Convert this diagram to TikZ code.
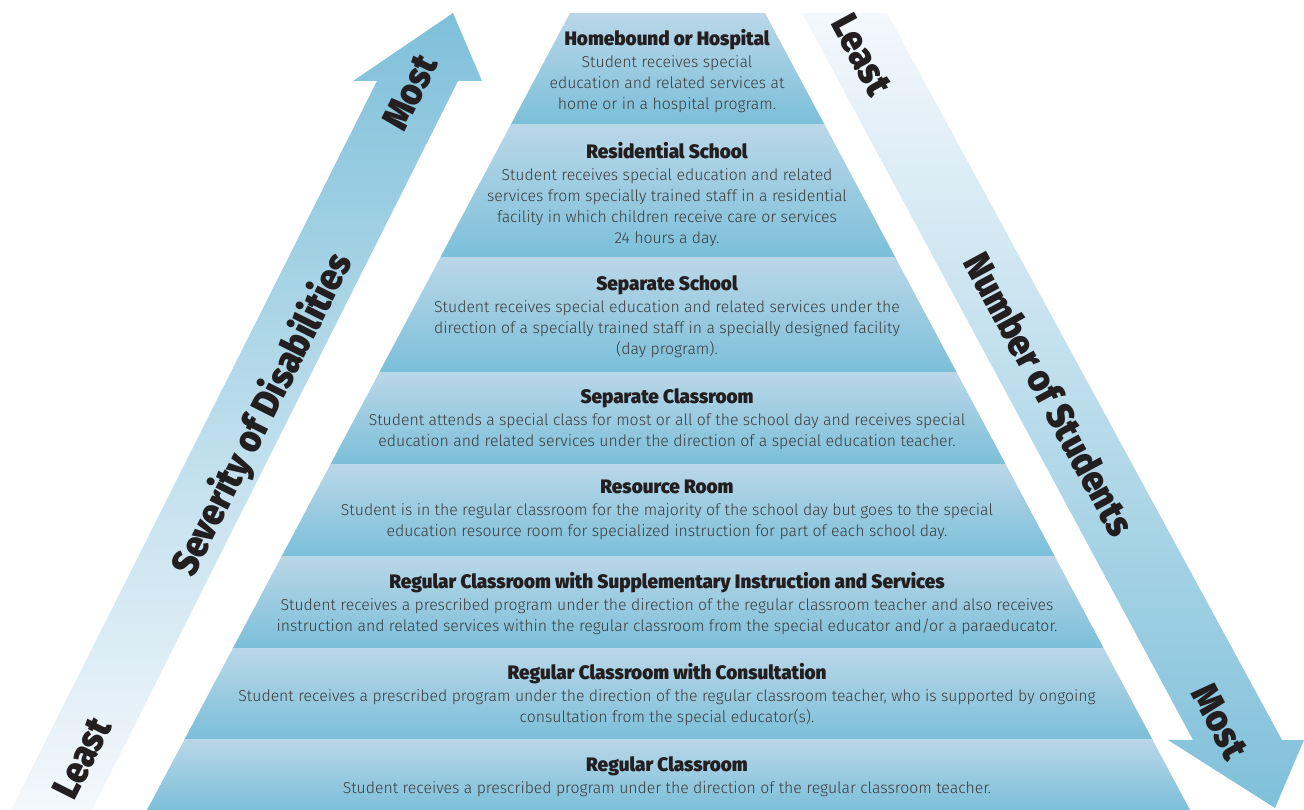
\documentclass[tikz,border=0pt]{standalone}
\usepackage{fontspec}
\setmainfont{Fira Sans}
\newfontfamily\lightfont{Fira Sans Light}
\newfontfamily\titlefont{Fira Sans Black}[FakeStretch=0.97]
\newfontfamily\blackfont{Fira Sans Black}[FakeStretch=0.9]
\definecolor{bandtop}{HTML}{BAD7E8}
\definecolor{bandbot}{HTML}{7BBFD9}
\definecolor{arrowdark}{HTML}{7FC0DA}
\definecolor{arrowpale}{HTML}{F4F8FC}
\definecolor{bodytxt}{HTML}{3A3A3A}
\definecolor{tagtxt}{HTML}{231F20}

\begin{document}
\begin{tikzpicture}[x=1pt,y=-1pt,
  band/.style={top color=bandtop,bottom color=bandbot,draw=none},
  lvl/.style={align=center,anchor=north,inner sep=0pt,text=bodytxt,
    font=\lightfont\fontsize{15.8}{21}\selectfont},
  tag/.style={font=\blackfont\fontsize{38}{38}\selectfont,text=tagtxt,inner sep=0pt}]
\useasboundingbox (0,0) rectangle (1304,810);

% pyramid, lightest at the top of each level
\begin{scope}
\clip (570,13) -- (765,13) -- (1190,810) -- (147,810) -- cycle;
\foreach \ytop/\ybot in {13/125,125/258,258/372,372/464,464/556,556/648,648/739,739/810}
  \shade[band] (140,\ytop) rectangle (1200,\ybot);
\end{scope}

% the two arrows
\shade[top color=arrowdark,bottom color=arrowpale] (11,810) -- (377,81) -- (353,81) -- (453,13)
  -- (482,81) -- (458,81) -- (92,810) -- cycle;
\shade[top color=arrowpale,bottom color=arrowdark] (802,13) -- (887,13) -- (1282,740) -- (1304,740)
  -- (1275,808) -- (1168,740) -- (1193,740) -- cycle;

\node[tag,rotate=63.3] (sev) at (263,415) {Severity of Disabilities};
\node[tag,rotate=63.3] (sevmost) at (410,92) {Most};
\node[tag,rotate=63.3] (sevleast) at (82,758) {Least};
\node[tag,rotate=-61.6] (numleast) at (862,55) {Least};
\node[tag,rotate=-61.6] (numstud) at (1050,394) {Number of Students};
\node[tag,rotate=-61.6] (nummost) at (1220,722) {Most};

% levels
\newcommand\lvltitle[1]{{\titlefont\fontsize{19.5}{21}\selectfont\color{tagtxt}#1}}
\node[lvl] (home) at (667,29) {\lvltitle{Homebound or Hospital}\\[1pt]
  Student receives special\\education and related services at\\home or in a hospital program.};
\node[lvl] (resid) at (667,142) {\lvltitle{Residential School}\\[1pt]
  Student receives special education and related\\services from specially trained staff in a residential\\
  facility in which children receive care or services\\24 hours a day.};
\node[lvl] (sepschool) at (667,275) {\lvltitle{Separate School}\\[1pt]
  Student receives special education and related services under the\\
  direction of a specially trained staff in a specially designed facility\\(day program).};
\node[lvl] (sepclass) at (667,388) {\lvltitle{Separate Classroom}\\[1pt]
  Student attends a special class for most or all of the school day and receives special\\
  education and related services under the direction of a special education teacher.};
\node[lvl] (resource) at (667,480) {\lvltitle{Resource Room}\\[1pt]
  Student is in the regular classroom for the majority of the school day but goes to the special\\
  education resource room for specialized instruction for part of each school day.};
\node[lvl] (suppl) at (667,572) {\lvltitle{Regular Classroom with Supplementary Instruction and Services}\\[1pt]
  Student receives a prescribed program under the direction of the regular classroom teacher and also receives\\
  instruction and related services within the regular classroom from the special educator and/or a paraeducator.};
\node[lvl] (consult) at (667,663) {\lvltitle{Regular Classroom with Consultation}\\[1pt]
  Student receives a prescribed program under the direction of the regular classroom teacher, who is supported by ongoing\\
  consultation from the special educator(s).};
\node[lvl] (regular) at (667,756) {\lvltitle{Regular Classroom}\\[1pt]
  Student receives a prescribed program under the direction of the regular classroom teacher.};
\end{tikzpicture}
\end{document}
